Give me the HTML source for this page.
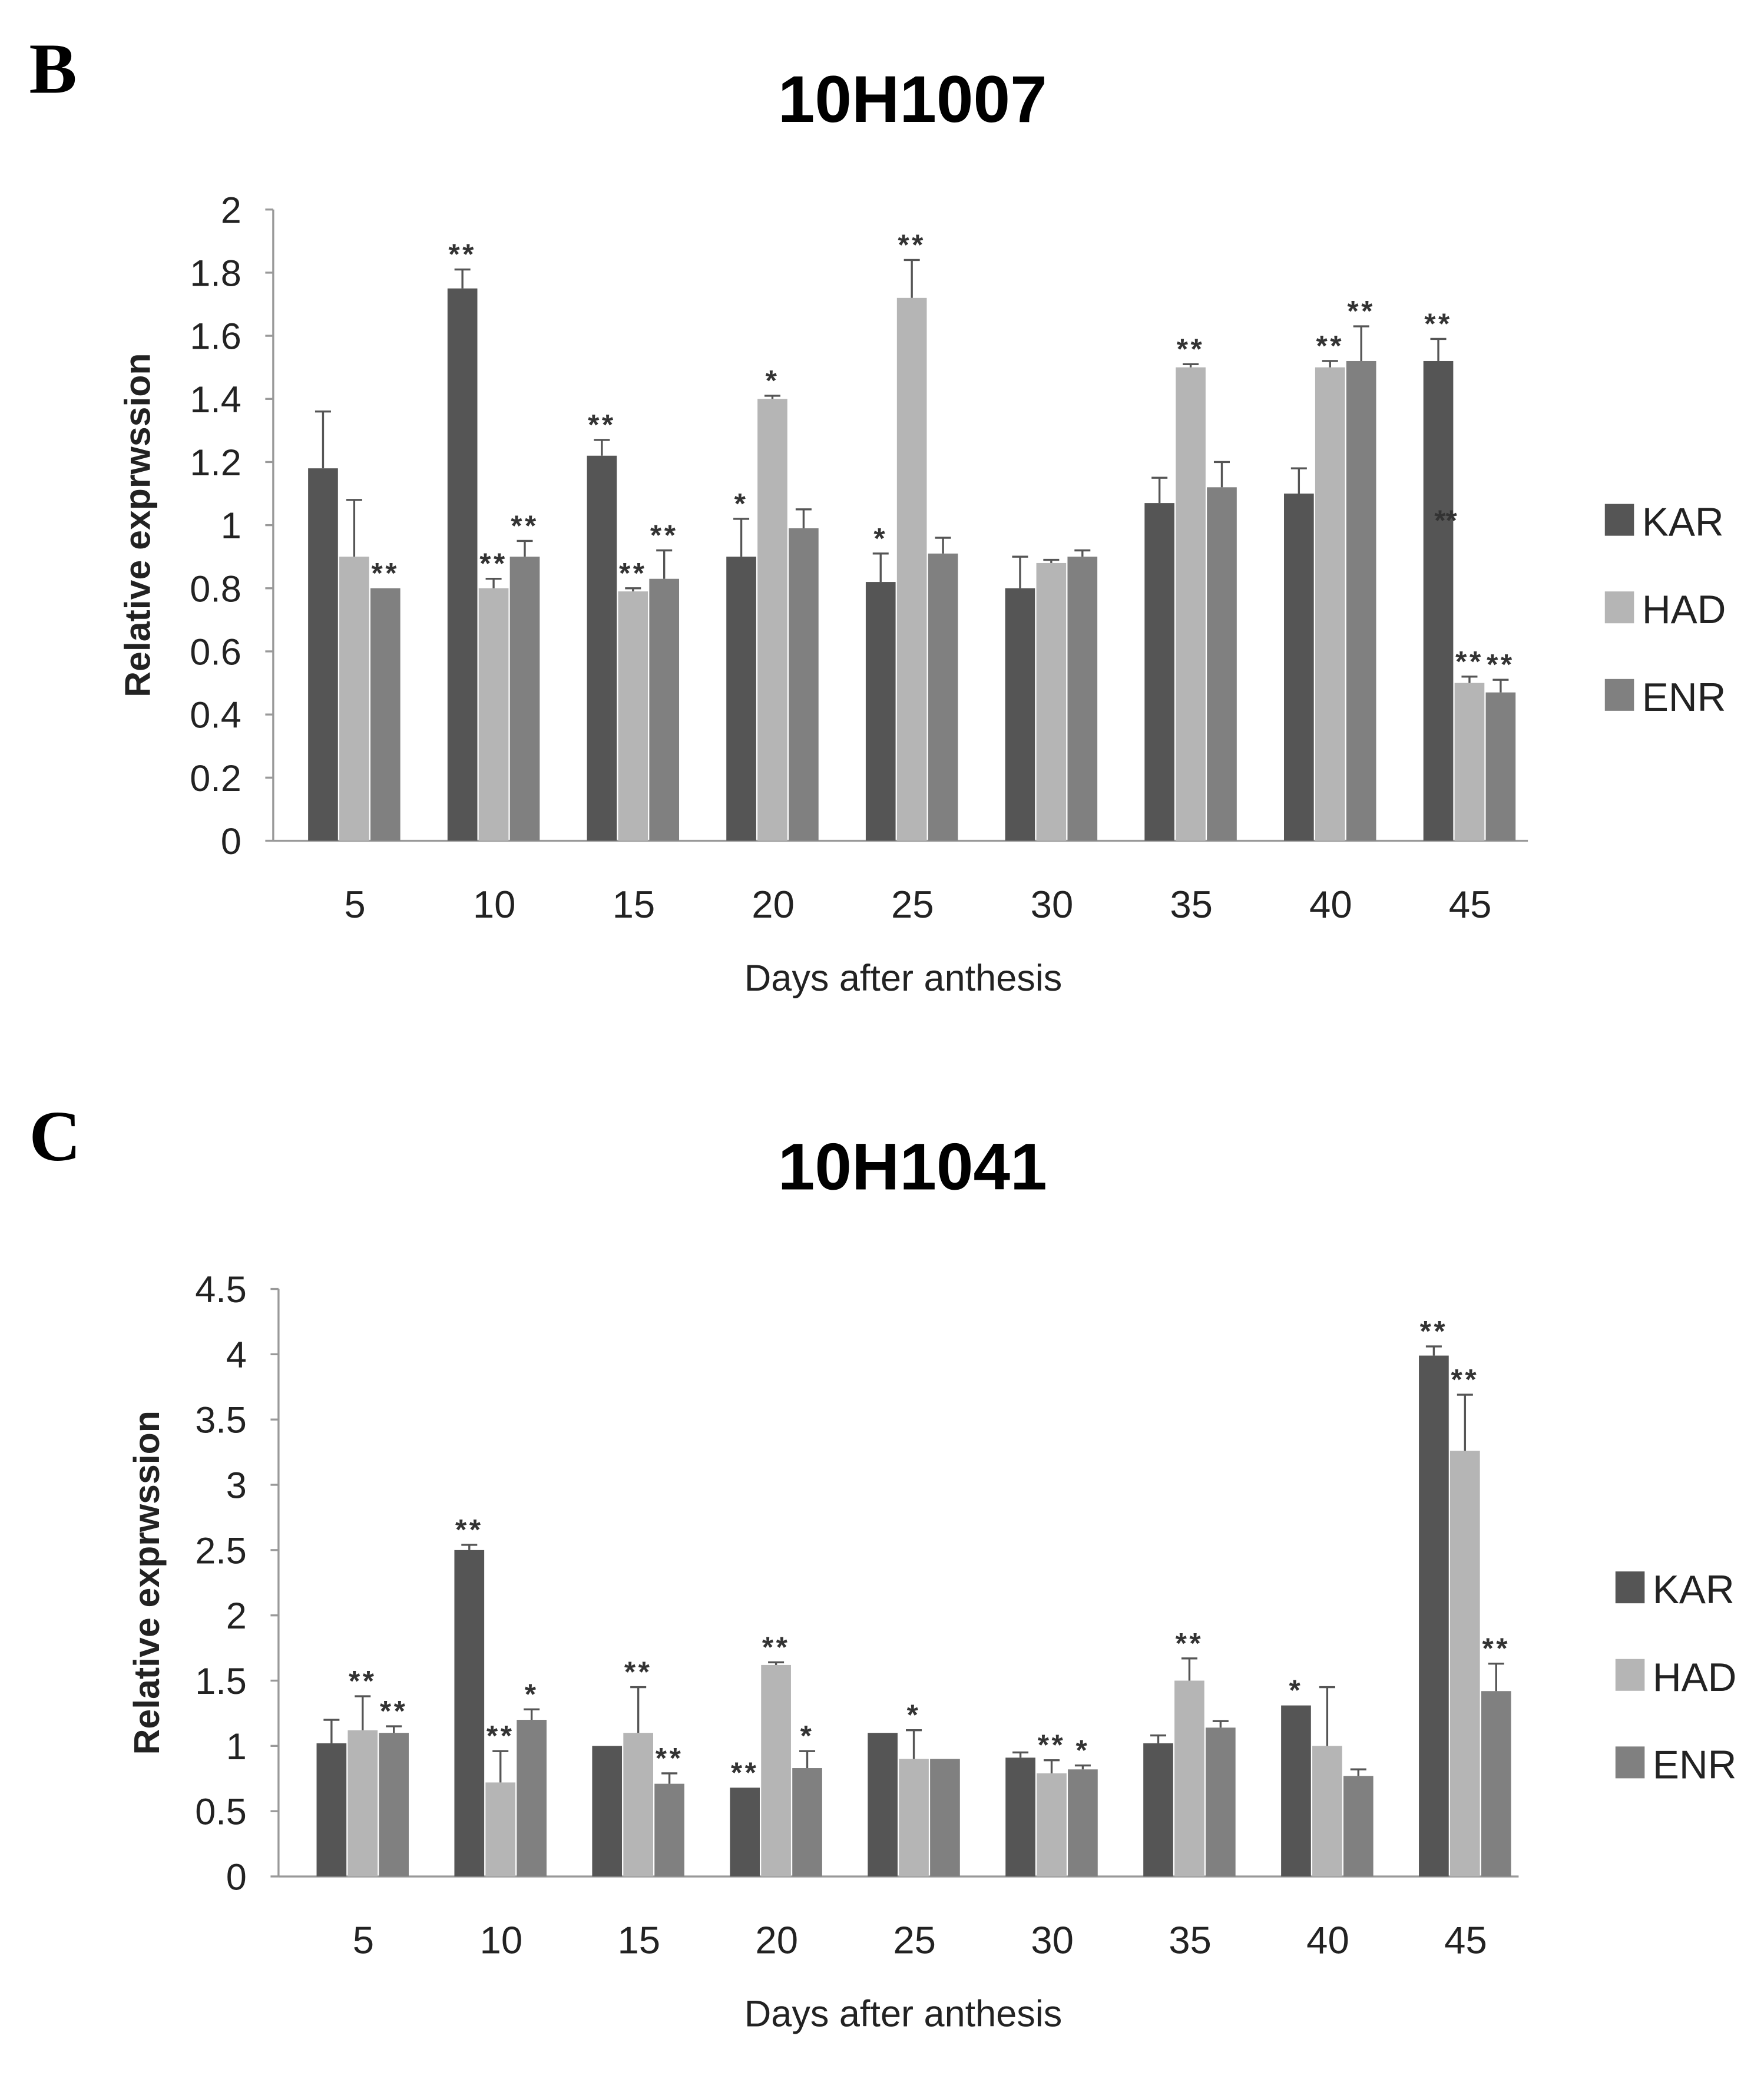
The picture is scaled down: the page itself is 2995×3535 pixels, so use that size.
<!DOCTYPE html>
<html><head><meta charset="utf-8"><style>
html,body{margin:0;padding:0;background:#fff;}
svg{display:block;font-family:"Liberation Sans",sans-serif;}
</style></head><body>
<svg id="fig" width="2995" height="3535" viewBox="0 0 1330 1570" preserveAspectRatio="none" xmlns="http://www.w3.org/2000/svg"></svg>
<script>
const categories=["5","10","15","20","25","30","35","40","45"];
const seriesNames=["KAR","HAD","ENR"];
const colors=["#555555","#b5b5b5","#808080"];
// Chart B (10H1007)
const bKAR=[1.18,1.75,1.22,0.90,0.82,0.80,1.07,1.10,1.52];
const bHAD=[0.90,0.80,0.79,1.40,1.72,0.88,1.50,1.50,0.50];
const bENR=[0.80,0.90,0.83,0.99,0.91,0.90,1.12,1.52,0.47];
const bKARerr=[0.18,0.06,0.05,0.12,0.09,0.10,0.08,0.08,0.07];
const bHADerr=[0.18,0.03,0.01,0.01,0.12,0.01,0.01,0.02,0.02];
const bENRerr=[0.00,0.05,0.09,0.06,0.05,0.02,0.08,0.11,0.04];
const bKARsig=["","**","**","*","*","","","","**"];
const bHADsig=["","**","**","*","**","","**","**","**"];
const bENRsig=["**","**","**","","","","","**","**"];
const bTicks=["0","0.2","0.4","0.6","0.8","1","1.2","1.4","1.6","1.8","2"];
// Chart C (10H1041)
const cKAR=[1.02,2.50,1.00,0.68,1.10,0.91,1.02,1.31,3.99];
const cHAD=[1.12,0.72,1.10,1.62,0.90,0.79,1.50,1.00,3.26];
const cENR=[1.10,1.20,0.71,0.83,0.90,0.82,1.14,0.77,1.42];
const cKARerr=[0.18,0.04,0.00,0.00,0.00,0.04,0.06,0.00,0.07];
const cHADerr=[0.26,0.24,0.35,0.02,0.22,0.10,0.17,0.45,0.43];
const cENRerr=[0.05,0.08,0.08,0.13,0.00,0.03,0.05,0.05,0.21];
const cKARsig=["","**","","**","","","","*","**"];
const cHADsig=["**","**","**","**","*","**","**","","**"];
const cENRsig=["**","*","**","*","","*","","","**"];
const cTicks=["0","0.5","1","1.5","2","2.5","3","3.5","4","4.5"];

const NS="http://www.w3.org/2000/svg";
const svg=document.getElementById('fig');
function mk(tag,attrs,parent,text){const e=document.createElementNS(NS,tag);for(const k in attrs)e.setAttribute(k,attrs[k]);if(text!==undefined)e.textContent=text;(parent||svg).appendChild(e);return e;}

function chart(cfg){
  const g=mk('g',{});
  
  
  const letter=mk('text',{x:22,y:cfg.top+70,'font-family':'Liberation Serif, serif','font-weight':'bold','font-size':54},g,cfg.letter);
  
  const t=mk('text',{x:688,y:cfg.top+92,'text-anchor':'middle','font-weight':'bold','font-size':50},g,cfg.title);
  
  const x0=cfg.x0,x1=cfg.x1,y0=cfg.y0,yT=cfg.yT,max=cfg.max;
  const yS=v=>y0-(v/max)*(y0-yT);
  const step=(x1-x0)/categories.length;
  const cx=i=>x0+step*(i+0.5)+cfg.off;
  const ya=mk('line',{x1:x0,y1:yT,x2:x0,y2:y0,stroke:'#999','stroke-width':1.5},g);
  
  const xa=mk('line',{x1:x0,y1:y0,x2:x1,y2:y0,stroke:'#999','stroke-width':1.5},g);
  
  cfg.ticks.forEach(tk=>{
    const y=yS(parseFloat(tk));
    mk('line',{x1:x0-6,y1:y,x2:x0,y2:y,stroke:'#999','stroke-width':1.5},g);
    const tl=mk('text',{x:x0-24,y:y+10,'text-anchor':'end','font-size':28,fill:'#222'},g,tk);
    
  });
  const yt=mk('text',{x:0,y:0,transform:`translate(${cfg.ytx},${(y0+yT)/2}) rotate(-90)`,'text-anchor':'middle','font-weight':'bold','font-size':27,fill:'#222'},g,'Relative exprwssion');
  
  categories.forEach((c,i)=>{
    const tl=mk('text',{x:cx(i),y:y0+58,'text-anchor':'middle','font-size':29,fill:'#222'},g,c);
    
  });
  const xt=mk('text',{x:681,y:y0+113,'text-anchor':'middle','font-size':28,fill:'#222'},g,'Days after anthesis');
  
  const bw=23.5;
  cfg.series.forEach((s,si)=>{
    s.vals.forEach((v,i)=>{
      const x=cx(i)-bw*1.5+si*bw;
      const y=yS(v);
      const r=mk('rect',{x:x,y:y,width:bw-1,height:y0-y,fill:colors[si]},g);
      
      
      const ey=yS(v+s.err[i]);
      const mx=x+(bw-1)/2;
      if(s.err[i]>0){
        mk('line',{x1:mx,y1:y,x2:mx,y2:ey,stroke:'#555','stroke-width':1.5},g);
        mk('line',{x1:mx-6,y1:ey,x2:mx+6,y2:ey,stroke:'#555','stroke-width':1.5},g);
      }
      if(s.sig[i]){
        const st=mk('text',{x:mx,y:ey-4,'text-anchor':'middle','font-size':22,'font-weight':'bold',fill:'#333','letter-spacing':2},g,s.sig[i]);
        
      }
    });
  });
  seriesNames.forEach((n,si)=>{
    const ly=cfg.legY+si*66;
    const r=mk('rect',{x:cfg.legX,y:ly-13,width:22,height:24,fill:colors[si]},g);
    
    const lt=mk('text',{x:cfg.legX+28,y:ly+11,'font-size':30,fill:'#222'},g,n);
    
  });
}
chart({name:'chart-10h1007',letter:'B',title:'10H1007',top:0,x0:206,x1:1152,y0:634,yT:158,max:2,off:9,ytx:113,legX:1210,legY:393,ticks:bTicks,
  series:[{vals:bKAR,err:bKARerr,sig:bKARsig},{vals:bHAD,err:bHADerr,sig:bHADsig},{vals:bENR,err:bENRerr,sig:bENRsig}]});
chart({name:'chart-10h1041',letter:'C',title:'10H1041',top:805,x0:210,x1:1145,y0:1415,yT:972,max:4.5,off:12,ytx:120,legX:1218,legY:1198,ticks:cTicks,
  series:[{vals:cKAR,err:cKARerr,sig:cKARsig},{vals:cHAD,err:cHADerr,sig:cHADsig},{vals:cENR,err:cENRerr,sig:cENRsig}]});
const ex=mk('text',{x:1090,y:400,'text-anchor':'middle','font-size':22,'font-weight':'bold',fill:'#333'},svg,'**');


</script>
</body></html>
